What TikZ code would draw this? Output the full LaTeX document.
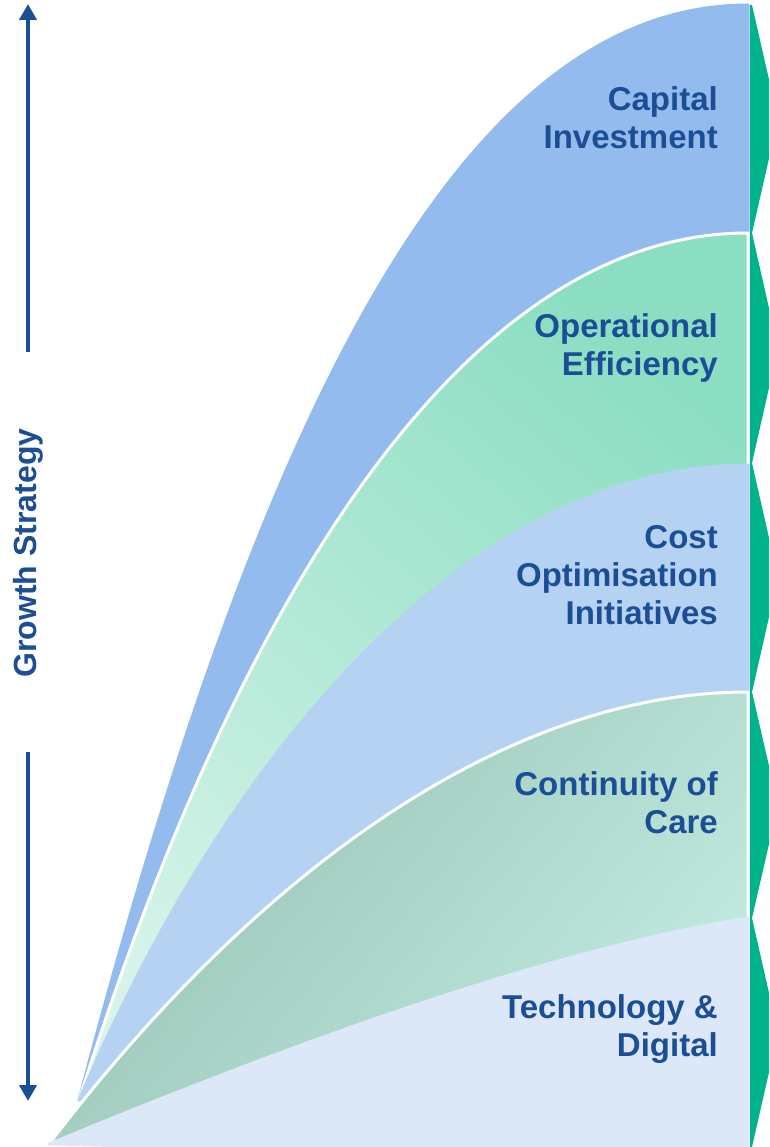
\documentclass[tikz,border=0pt]{standalone}
\usepackage{fontspec}
\setmainfont{Liberation Sans}
\usetikzlibrary{arrows.meta}

\definecolor{capblue}{HTML}{93BBEE}
\definecolor{opdark}{HTML}{8CDEC2}
\definecolor{oplight}{HTML}{D8F4EA}
\definecolor{costblue}{HTML}{B6D2F3}
\definecolor{condark}{HTML}{98C2B4}
\definecolor{conlight}{HTML}{C2EBE1}
\definecolor{techblue}{HTML}{DCE7F8}
\definecolor{chevgreen}{HTML}{00B38B}
\definecolor{textblue}{HTML}{1C4E96}

\tikzset{
  band/.style={draw=white, line width=3pt, line join=round},
  label/.style={anchor=east, align=right, text=textblue, inner sep=0pt,
    font=\fontsize{33}{38}\selectfont\bfseries},
  chevron/.style={fill=chevgreen},
  growarrow/.style={draw=textblue, line width=4pt,
    -{Triangle[length=16pt,width=17pt]}}
}

\begin{document}
\begin{tikzpicture}[x=1pt,y=-1pt]
    \useasboundingbox (0,0) rectangle (769,1147);
    \clip (0,0) rectangle (769,1147);

    \coordinate (T) at (79,1100);
    \coordinate (B) at (49,1144);
    \coordinate (R) at (748,1160);

    % bands, back to front
    \fill[band, capblue] (T) .. controls (250,450) and (450,5) .. (748,5) -- (R) -- cycle;
    \shade[band, top color=opdark, bottom color=oplight, shading angle=-40]
        (T) .. controls (250,560) and (480,233) .. (748,233) -- (R) -- cycle;
    \fill[band, costblue] (T) .. controls (250,700) and (500,465) .. (748,465) -- (R) -- cycle;
    \shade[band, top color=condark, bottom color=conlight, shading angle=50]
        (B) .. controls (250,880) and (500,692) .. (748,692) -- (R) -- cycle;
    \fill[band, techblue] (B) .. controls (300,1040) and (550,950) .. (748,918) -- (R) -- cycle;

    % green chevrons on the right
    \foreach \ya/\yb in {5/233, 233/463, 463/692, 692/918, 918/1147}
        \fill[chevron] (750,\ya) -- (752,\ya) -- (778,{(\ya+\yb)/2}) -- (752,\yb) -- (750,\yb) -- cycle;

    \node[label] (capital) at (718,118) {Capital\\Investment};
    \node[label] (operational) at (718,348) {Operational\\Efficiency};
    \node[label] (cost) at (718,575) {Cost\\Optimisation\\Initiatives};
    \node[label] (continuity) at (718,803) {Continuity of\\Care};
    \node[label] (technology) at (718,1029) {Technology \&\\Digital};

    \node[text=textblue, rotate=90, font=\fontsize{32}{38}\selectfont\bfseries] (growth) at (28,553) {Growth Strategy};
    \coordinate (upstart) at (28,352);
    \coordinate (uptip) at (28,4);
    \coordinate (downstart) at (28,752);
    \coordinate (downtip) at (28,1101);
    \draw[growarrow] (upstart) -- (uptip);
    \draw[growarrow] (downstart) -- (downtip);
\end{tikzpicture}
\end{document}
